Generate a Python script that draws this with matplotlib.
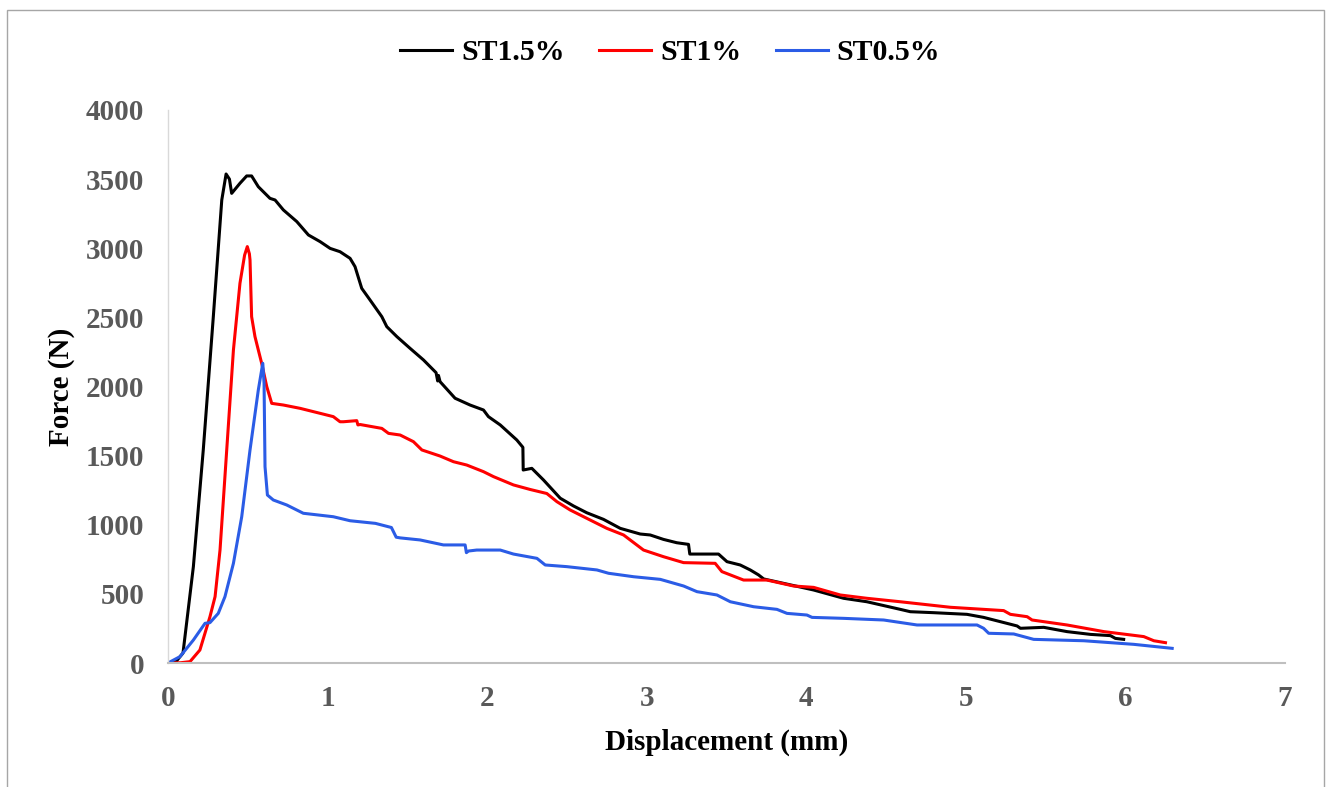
import matplotlib
matplotlib.use("Agg")
import matplotlib.pyplot as plt
from matplotlib.patches import Rectangle

# ---------------- data ----------------
st15_x = [0, 0.05, 0.094, 0.159, 0.221, 0.284, 0.337, 0.364, 0.385, 0.399, 0.451, 0.493, 0.524,
          0.566, 0.639, 0.671, 0.723, 0.807, 0.880, 0.953, 1.016, 1.078, 1.141, 1.172, 1.214,
          1.266, 1.340, 1.371, 1.434, 1.517, 1.601, 1.680, 1.690, 1.695, 1.705, 1.799, 1.893,
          1.977, 2.008, 2.082, 2.186, 2.224, 2.226, 2.280, 2.353, 2.458, 2.541, 2.624, 2.729,
          2.834, 2.959, 3.022, 3.105, 3.188, 3.262, 3.270, 3.450, 3.503, 3.586, 3.649, 3.701,
          3.733, 3.858, 4.046, 4.234, 4.380, 4.589, 4.652, 4.798, 5.007, 5.111, 5.216, 5.321,
          5.342, 5.488, 5.634, 5.781, 5.906, 5.937, 5.989]
st15_y = [0, 10, 72, 697, 1541, 2505, 3349, 3537, 3500, 3397, 3470, 3523, 3523,
          3445, 3361, 3349, 3277, 3193, 3096, 3048, 2999, 2975, 2927, 2867, 2710,
          2626, 2505, 2433, 2361, 2276, 2192, 2100, 2040, 2080, 2035, 1915, 1866,
          1830, 1782, 1722, 1613, 1560, 1396, 1408, 1324, 1192, 1136, 1087, 1039,
          974, 933, 926, 894, 870, 858, 788, 788, 733, 709, 673, 637,
          608, 576, 528, 468, 443, 388, 371, 364, 352, 330, 299, 268,
          251, 258, 227, 207, 198, 178, 171]

st1_x = [0, 0.08, 0.138, 0.2, 0.263, 0.295, 0.326, 0.368, 0.410, 0.451, 0.480, 0.497, 0.510,
         0.514, 0.524, 0.545, 0.566, 0.587, 0.619, 0.650, 0.723, 0.828, 0.953, 1.036, 1.078,
         1.099, 1.183, 1.190, 1.204, 1.340, 1.382, 1.455, 1.538, 1.591, 1.705, 1.789, 1.872,
         1.977, 2.040, 2.165, 2.270, 2.374, 2.437, 2.520, 2.646, 2.750, 2.855, 2.980, 3.105,
         3.231, 3.429, 3.471, 3.607, 3.753, 3.920, 4.046, 4.213, 4.380, 4.589, 4.903, 5.237,
         5.279, 5.384, 5.415, 5.634, 5.865, 6.115, 6.178, 6.251]
st1_y = [0, 2, 10, 94, 335, 480, 817, 1541, 2264, 2747, 2950, 3012, 2960,
         2915, 2505, 2361, 2264, 2168, 1999, 1878, 1866, 1842, 1806, 1782, 1745,
         1745, 1753, 1722, 1725, 1697, 1661, 1649, 1601, 1541, 1497, 1456, 1432,
         1384, 1348, 1288, 1255, 1226, 1167, 1107, 1034, 974, 926, 817, 769,
         726, 721, 661, 600, 600, 557, 547, 492, 468, 443, 403, 379,
         352, 335, 311, 275, 227, 191, 161, 147]

st05_x = [0, 0.075, 0.159, 0.232, 0.263, 0.315, 0.357, 0.410, 0.462, 0.514, 0.566, 0.594,
          0.602, 0.608, 0.623, 0.660, 0.744, 0.848, 1.036, 1.141, 1.300, 1.400, 1.430, 1.455,
          1.580, 1.726, 1.862, 1.870, 1.883, 1.935, 2.082, 2.165, 2.312, 2.364, 2.499, 2.688,
          2.761, 2.918, 3.085, 3.231, 3.315, 3.440, 3.524, 3.670, 3.816, 3.879, 4.004, 4.036,
          4.234, 4.485, 4.694, 5.070, 5.111, 5.143, 5.300, 5.425, 5.739, 6.052, 6.293]
st05_y = [0, 46, 166, 287, 292, 359, 480, 721, 1058, 1541, 1975, 2168,
          2023, 1420, 1215, 1179, 1143, 1083, 1058, 1029, 1010, 980, 910, 905,
          890, 854, 854, 798, 810, 817, 817, 788, 757, 709, 697, 673,
          649, 624, 605, 557, 516, 492, 443, 407, 388, 359, 347, 330,
          323, 311, 275, 275, 251, 215, 210, 171, 161, 135, 106]

series_labels = ["ST1.5%", "ST1%", "ST0.5%"]
series_colors = ["#000000", "#ff0000", "#2b5ce6"]
x_ticks = [0, 1, 2, 3, 4, 5, 6, 7]
y_ticks = [0, 500, 1000, 1500, 2000, 2500, 3000, 3500, 4000]

# ---------------- plot ----------------
plt.rcParams['font.family'] = ['Liberation Serif', 'DejaVu Serif']
plt.rcParams['font.weight'] = 'bold'

W, H = 1326, 787
fig = plt.figure(figsize=(W / 100, H / 100), dpi=100)
ax = fig.add_axes([168 / W, 1 - 663 / H, (1285 - 168) / W, (663 - 110) / H])

for xs, ys, lab, col in zip([st15_x, st1_x, st05_x], [st15_y, st1_y, st05_y],
                            series_labels, series_colors):
    ax.plot(xs, ys, color=col, lw=2.2, label=lab, solid_joinstyle='round')

ax.set_xlim(0, 7)
ax.set_ylim(0, 4000)
ax.set_xticks(x_ticks)
ax.set_yticks(y_ticks)
ax.tick_params(length=0, labelsize=21, labelcolor='#595959')
ax.tick_params(axis='y', pad=17)
ax.tick_params(axis='x', pad=16)
for lbl in ax.get_xticklabels() + ax.get_yticklabels():
    lbl.set_fontweight('bold')

for s in ['top', 'right']:
    ax.spines[s].set_visible(False)
ax.spines['left'].set_color('#d9d9d9')
ax.spines['left'].set_linewidth(1.0)
ax.spines['bottom'].set_color('#bfbfbf')
ax.spines['bottom'].set_linewidth(1.5)

ax.set_xlabel('Displacement (mm)', fontsize=21, fontweight='bold', color='black', labelpad=12)
ax.set_ylabel('Force (N)', fontsize=21, fontweight='bold', color='black', labelpad=8)

leg = fig.legend(loc='center', bbox_to_anchor=(670 / W, 1 - 53 / H), ncol=3, frameon=False,
                 prop={'size': 21.5, 'weight': 'bold'}, handlelength=1.75, handletextpad=0.3,
                 columnspacing=1.15)
for line in leg.get_lines():
    line.set_linewidth(2.2)

# outer chart border
fig.patches.append(Rectangle((7 / W, -0.01), (1324 - 7) / W, 1 - 10 / H + 0.01,
                             transform=fig.transFigure, fill=False,
                             edgecolor='#a6a6a6', lw=1.0))

fig.savefig('out.png', dpi=100, facecolor='white')
